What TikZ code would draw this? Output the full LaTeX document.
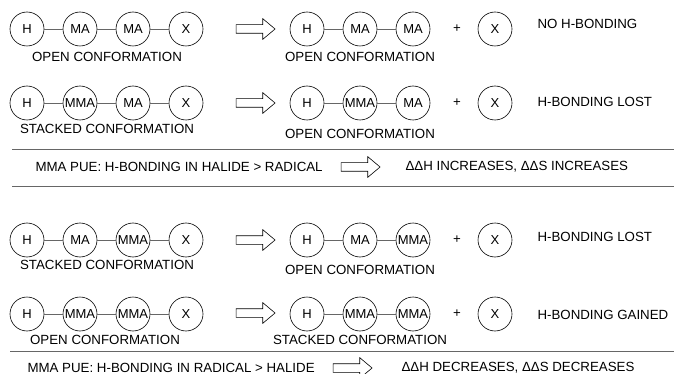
\documentclass[tikz,border=0pt]{standalone}
\usepackage{fontspec}
\setmainfont{Liberation Sans}
\usetikzlibrary{positioning,shapes.arrows}

\tikzset{
  unit/.style={circle,draw,line width=0.6pt,minimum size=34pt,inner sep=0pt,font=\fontsize{13}{15}\selectfont},
  bond/.style={draw=black!60,line width=0.9pt},
  conf/.style={font=\fontsize{13.3}{15}\selectfont},
  note/.style={font=\fontsize{13.3}{15}\selectfont,anchor=west},
  block/.style={single arrow,draw,line width=0.6pt,minimum height=39pt,inner xsep=0pt,inner ysep=4pt,
    single arrow head extend=6pt,single arrow tip angle=80},
  rule/.style={draw=black!60,line width=0.9pt}
}

\begin{document}
\begin{tikzpicture}[x=1pt,y=-1pt,node distance=53pt,on grid]
  \useasboundingbox (0,0) rectangle (674,374);

  % row 1
  \node[unit] (h1) at (27,29) {H};
  \node[unit] (p1) [right = of h1] {MA};
  \node[unit] (q1) [right = of p1] {MA};
  \node[unit] (x1) [right = of q1] {X};
  \node[block] (ar1) at (253,29) {};
  \node[unit] (rh1) at (307,29) {H};
  \node[unit] (rp1) [right = of rh1] {MA};
  \node[unit] (rq1) [right = of rp1] {MA};
  \node[conf] (plus1) at (457,29) {+};
  \node[unit] (rx1) at (495,29) {X};
  \node[note] (n1) at (534,24) {NO H-BONDING};
  \node[conf] (c1) at (107,57) {OPEN CONFORMATION};
  \node[conf] (rc1) at (360,57) {OPEN CONFORMATION};
  \path[bond] (h1) -- (p1) (p1) -- (q1) (q1) -- (x1) (rh1) -- (rp1) (rp1) -- (rq1);

  % row 2
  \node[unit] (h2) at (27,103) {H};
  \node[unit] (p2) [right = of h2] {MMA};
  \node[unit] (q2) [right = of p2] {MA};
  \node[unit] (x2) [right = of q2] {X};
  \node[block] (ar2) at (253,103) {};
  \node[unit] (rh2) at (307,103) {H};
  \node[unit] (rp2) [right = of rh2] {MMA};
  \node[unit] (rq2) [right = of rp2] {MA};
  \node[conf] (plus2) at (457,103) {+};
  \node[unit] (rx2) at (495,103) {X};
  \node[note] (n2) at (534,102) {H-BONDING LOST};
  \node[conf] (c2) at (107,129) {STACKED CONFORMATION};
  \node[conf] (rc2) at (360,134) {OPEN CONFORMATION};
  \path[bond] (h2) -- (p2) (p2) -- (q2) (q2) -- (x2) (rh2) -- (rp2) (rp2) -- (rq2);

  % summary 1
  \coordinate (l1a) at (12,149);
  \coordinate (l1b) at (674,149);
  \coordinate (l2a) at (12,186);
  \coordinate (l2b) at (674,186);
  \draw[rule] (l1a) -- (l1b);
  \draw[rule] (l2a) -- (l2b);
  \node[note] (s1) at (32,167) {MMA PUE: H-BONDING IN HALIDE > RADICAL};
  \node[block] (ar5) at (358,167) {};
  \node[note] (d1) at (402,167) {ΔΔH INCREASES, ΔΔS INCREASES};

  % row 3
  \node[unit] (h3) at (27,240) {H};
  \node[unit] (p3) [right = of h3] {MA};
  \node[unit] (q3) [right = of p3] {MMA};
  \node[unit] (x3) [right = of q3] {X};
  \node[block] (ar3) at (253,240) {};
  \node[unit] (rh3) at (307,240) {H};
  \node[unit] (rp3) [right = of rh3] {MA};
  \node[unit] (rq3) [right = of rp3] {MMA};
  \node[conf] (plus3) at (457,240) {+};
  \node[unit] (rx3) at (495,240) {X};
  \node[note] (n3) at (534,237) {H-BONDING LOST};
  \node[conf] (c3) at (107,265) {STACKED CONFORMATION};
  \node[conf] (rc3) at (360,270) {OPEN CONFORMATION};
  \path[bond] (h3) -- (p3) (p3) -- (q3) (q3) -- (x3) (rh3) -- (rp3) (rp3) -- (rq3);

  % row 4
  \node[unit] (h4) at (27,314) {H};
  \node[unit] (p4) [right = of h4] {MMA};
  \node[unit] (q4) [right = of p4] {MMA};
  \node[unit] (x4) [right = of q4] {X};
  \node[block] (ar4) at (253,313) {};
  \node[unit] (rh4) at (307,314) {H};
  \node[unit] (rp4) [right = of rh4] {MMA};
  \node[unit] (rq4) [right = of rp4] {MMA};
  \node[conf] (plus4) at (457,314) {+};
  \node[unit] (rx4) at (495,314) {X};
  \node[note] (n4) at (534,315) {H-BONDING GAINED};
  \node[conf] (c4) at (105,340) {OPEN CONFORMATION};
  \node[conf] (rc4) at (360,340) {STACKED CONFORMATION};
  \path[bond] (h4) -- (p4) (p4) -- (q4) (q4) -- (x4) (rh4) -- (rp4) (rp4) -- (rq4);

  % summary 2
  \coordinate (l3a) at (10,351);
  \coordinate (l3b) at (674,351);
  \draw[rule] (l3a) -- (l3b);
  \node[note] (s2) at (24,368) {MMA PUE: H-BONDING IN RADICAL > HALIDE};
  \node[block] (ar6) at (350,368) {};
  \node[note] (d2) at (398,368) {ΔΔH DECREASES, ΔΔS DECREASES};
\end{tikzpicture}
\end{document}
